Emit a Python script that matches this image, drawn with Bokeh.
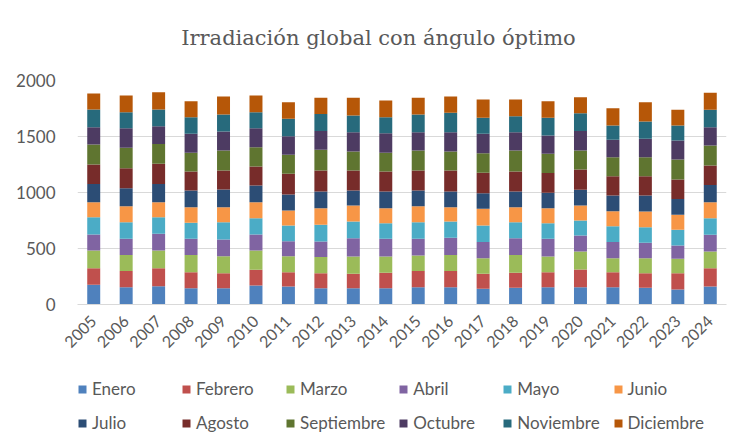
import math
from bokeh.plotting import figure
from bokeh.layouts import column
from bokeh.models import (ColumnDataSource, Range1d, FactorRange, FixedTicker, Label,
                          Legend, LegendItem)
from bokeh.embed import file_html
from bokeh.resources import INLINE

years = [str(y) for y in range(2005, 2025)]
months = ["Enero", "Febrero", "Marzo", "Abril", "Mayo", "Junio",
          "Julio", "Agosto", "Septiembre", "Octubre", "Noviembre", "Diciembre"]

enero = [176, 155, 164, 146, 146, 170, 161, 146, 146, 146, 155, 155, 140, 149, 155, 155, 155, 149, 134, 161]
febrero = [148, 143, 160, 143, 134, 140, 128, 134, 128, 137, 143, 143, 134, 134, 134, 157, 134, 131, 146, 163]
marzo = [158, 145, 158, 154, 151, 172, 142, 143, 155, 146, 139, 145, 140, 160, 140, 161, 125, 134, 128, 149]
abril = [143, 143, 149, 143, 149, 143, 134, 139, 163, 157, 149, 152, 143, 149, 157, 143, 143, 137, 119, 149]
mayo = [155, 149, 149, 143, 155, 146, 140, 149, 149, 140, 149, 146, 148, 143, 140, 134, 142, 139, 140, 149]
junio = [134, 143, 134, 140, 134, 143, 134, 149, 143, 134, 143, 128, 149, 134, 134, 134, 134, 140, 134, 143]
julio = [163, 161, 163, 149, 158, 148, 143, 149, 134, 149, 140, 140, 140, 140, 137, 140, 140, 143, 142, 154]
agosto = [173, 178, 179, 169, 169, 170, 185, 187, 178, 178, 178, 187, 182, 178, 176, 181, 173, 173, 173, 173]
septiembre = [178, 182, 178, 167, 179, 173, 169, 185, 170, 167, 179, 170, 175, 188, 172, 170, 169, 169, 179, 179]
octubre = [155, 175, 158, 170, 170, 169, 167, 167, 173, 176, 164, 173, 173, 164, 164, 173, 155, 164, 169, 163]
noviembre = [158, 143, 149, 148, 151, 143, 155, 154, 148, 142, 157, 172, 143, 142, 158, 160, 128, 155, 134, 155]
diciembre = [143, 149, 155, 143, 161, 149, 148, 143, 158, 149, 149, 146, 163, 149, 148, 143, 155, 172, 140, 152]

y_ticks = [0, 500, 1000, 1500, 2000]
title_text = "Irradiación global con ángulo óptimo"

colors = ["#4F81BD", "#C0504D", "#9BBB59", "#8064A2", "#4BACC6", "#F79646",
          "#2C4D75", "#772C2A", "#5F7530", "#4D3B62", "#276A7C", "#B65708"]

series = [enero, febrero, marzo, abril, mayo, junio, julio, agosto,
          septiembre, octubre, noviembre, diciembre]
data = {"year": years}
for m, s in zip(months, series):
    data[m] = s
source = ColumnDataSource(data)

GRAY = "#595959"
FONT = "Lato"
W = 738


def blank(height, **kw):
    f = figure(width=W, height=height, output_backend="svg", toolbar_location=None,
               x_axis_type=None, y_axis_type=None, min_border=0, **kw)
    f.outline_line_color = None
    f.background_fill_color = "white"
    f.border_fill_color = "white"
    return f


# ---- title strip
pt = blank(68, x_range=Range1d(0, 1), y_range=Range1d(0, 1))
pt.add_layout(Label(x=301, y=31, x_units="screen", y_units="screen", text=title_text,
                    text_font="DejaVu Serif", text_font_size="21px",
                    text_color=GRAY, text_align="center", text_baseline="alphabetic"))

# ---- main chart
p = figure(x_range=years, width=W, height=300, output_backend="svg",
           toolbar_location=None, min_border_left=77, min_border_right=12,
           min_border_top=12, min_border_bottom=64)
p.y_range = Range1d(0, 2000)
p.outline_line_color = None
p.background_fill_color = "white"
p.border_fill_color = "white"

p.vbar_stack(months, x="year", width=0.4, color=colors, source=source,
             line_color=None)

p.xgrid.grid_line_color = None
p.ygrid.grid_line_color = "#D9D9D9"
p.ygrid.grid_line_width = 1
p.yaxis.ticker = FixedTicker(ticks=y_ticks)
p.yaxis.axis_line_color = None
p.yaxis.major_tick_line_color = None
p.yaxis.minor_tick_line_color = None
p.yaxis.major_label_standoff = 16
p.yaxis.major_label_text_font = FONT
p.yaxis.major_label_text_font_size = "17px"
p.yaxis.major_label_text_color = GRAY

p.xaxis.axis_line_color = "#D9D9D9"
p.xaxis.major_tick_line_color = None
p.xaxis.minor_tick_line_color = None
p.xaxis.major_label_orientation = math.pi / 4
p.xaxis.major_label_standoff = 8
p.xaxis.major_label_text_font = FONT
p.xaxis.major_label_text_font_size = "16px"
p.xaxis.major_label_text_color = GRAY
p.x_range.range_padding = 0.0

# ---- legend strip: same series, but this strip's x range holds none of the
# years, so only the legend swatches are drawn here
pl = blank(80, x_range=FactorRange(factors=["leyenda"]), y_range=Range1d(0, 1))
legend_bars = pl.vbar_stack(months, x="year", width=0.4, color=colors,
                            source=source, line_color=None)
rows, ncols = 2, 6
order = [r * ncols + c for c in range(ncols) for r in range(rows)]
items = [LegendItem(label=months[i], renderers=[legend_bars[i]]) for i in order]
lg = Legend(items=items, ncols=ncols, location=(0, 15), padding=0, margin=0,
            spacing=13, glyph_width=10, glyph_height=10, label_standoff=5,
            label_width=76, label_height=20, label_text_font=FONT,
            label_text_font_size="17px", label_text_color=GRAY,
            border_line_color=None, background_fill_alpha=0)
pl.add_layout(lg)

layout = column(pt, p, pl, spacing=0)
open("out.html", "w").write(file_html(layout, INLINE))
